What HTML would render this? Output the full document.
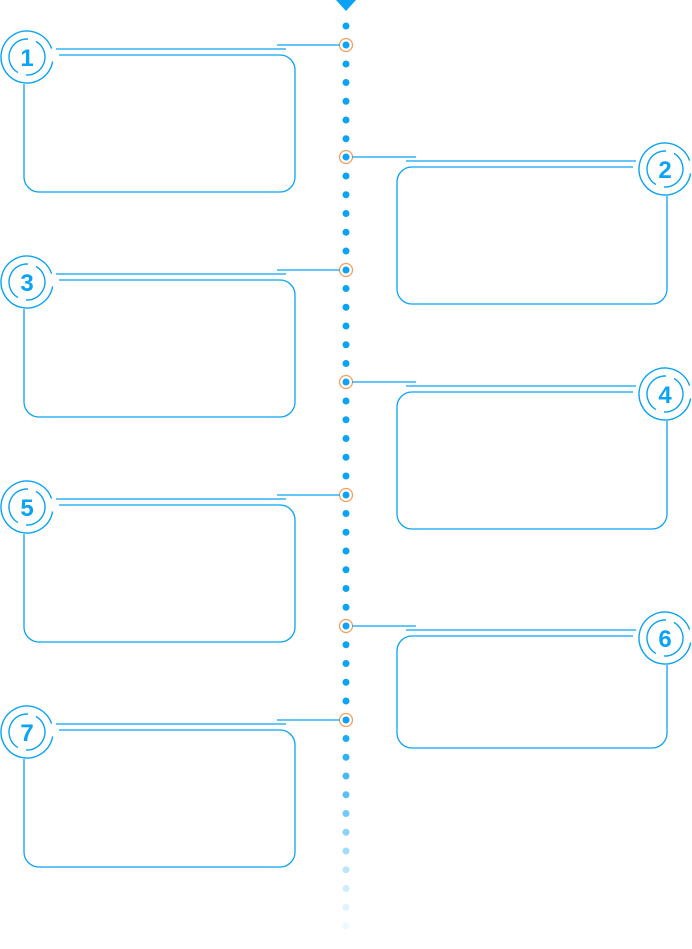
<!DOCTYPE html>
<html><head><meta charset="utf-8"><style>
html,body{margin:0;padding:0;background:#fff;width:692px;height:949px;overflow:hidden}
svg{display:block}
text{font-family:"Liberation Sans","DejaVu Sans",sans-serif;font-weight:bold;font-size:24px;fill:#0aa3f5}
</style></head><body>
<svg width="692" height="949" viewBox="0 0 692 949" xmlns="http://www.w3.org/2000/svg">
<defs>
<g id="badge">
<circle cx="0" cy="0" r="26" fill="none" stroke="#0aa3f5" stroke-width="1.4" stroke-dasharray="150 13.4" transform="rotate(10)"/>
<circle cx="0" cy="0" r="18" fill="none" stroke="#0aa3f5" stroke-width="1.4" stroke-dasharray="48 8.5" transform="rotate(-60)"/>
</g>
</defs>
<polygon points="336,0 356,0 346,11" fill="#0aa3f5"/>
<g fill="#0aa3f5">
<circle cx="346" cy="26" r="3.5"/><circle cx="346" cy="64" r="3.5"/><circle cx="346" cy="82.5" r="3.5"/><circle cx="346" cy="101.25" r="3.5"/><circle cx="346" cy="120" r="3.5"/><circle cx="346" cy="138.75" r="3.5"/>
<circle cx="346" cy="176" r="3.5"/><circle cx="346" cy="194.75" r="3.5"/><circle cx="346" cy="213.5" r="3.5"/><circle cx="346" cy="232.25" r="3.5"/><circle cx="346" cy="251" r="3.5"/>
<circle cx="346" cy="288.5" r="3.5"/><circle cx="346" cy="307.25" r="3.5"/><circle cx="346" cy="326" r="3.5"/><circle cx="346" cy="344.75" r="3.5"/><circle cx="346" cy="363.5" r="3.5"/>
<circle cx="346" cy="401" r="3.5"/><circle cx="346" cy="419.75" r="3.5"/><circle cx="346" cy="438.5" r="3.5"/><circle cx="346" cy="457.25" r="3.5"/><circle cx="346" cy="476" r="3.5"/>
<circle cx="346" cy="513.5" r="3.5"/><circle cx="346" cy="532.25" r="3.5"/><circle cx="346" cy="551" r="3.5"/><circle cx="346" cy="569.75" r="3.5"/><circle cx="346" cy="588.5" r="3.5"/><circle cx="346" cy="607.25" r="3.5"/>
<circle cx="346" cy="644.75" r="3.5"/><circle cx="346" cy="663.5" r="3.5"/><circle cx="346" cy="682.25" r="3.5"/><circle cx="346" cy="701" r="3.5"/>
<circle cx="346" cy="738.5" r="3.5" opacity="0.92"/><circle cx="346" cy="757.25" r="3.5" opacity="0.84"/><circle cx="346" cy="776" r="3.5" opacity="0.76"/><circle cx="346" cy="794.75" r="3.5" opacity="0.68"/><circle cx="346" cy="813.5" r="3.5" opacity="0.58"/><circle cx="346" cy="832.25" r="3.5" opacity="0.48"/><circle cx="346" cy="851" r="3.5" opacity="0.38"/><circle cx="346" cy="869.75" r="3.5" opacity="0.28"/><circle cx="346" cy="888.5" r="3.5" opacity="0.2"/><circle cx="346" cy="907.25" r="3.5" opacity="0.13"/><circle cx="346" cy="926" r="3.5" opacity="0.07"/>
</g>
<g fill="#0aa3f5" stroke="#f6a060" stroke-width="1.3">
<g><circle cx="346" cy="45" r="6.5" fill="none"/><circle cx="346" cy="45" r="3.5" stroke="none"/></g>
<g><circle cx="346" cy="157" r="6.5" fill="none"/><circle cx="346" cy="157" r="3.5" stroke="none"/></g>
<g><circle cx="346" cy="270" r="6.5" fill="none"/><circle cx="346" cy="270" r="3.5" stroke="none"/></g>
<g><circle cx="346" cy="382" r="6.5" fill="none"/><circle cx="346" cy="382" r="3.5" stroke="none"/></g>
<g><circle cx="346" cy="495" r="6.5" fill="none"/><circle cx="346" cy="495" r="3.5" stroke="none"/></g>
<g><circle cx="346" cy="626" r="6.5" fill="none"/><circle cx="346" cy="626" r="3.5" stroke="none"/></g>
<g><circle cx="346" cy="720" r="6.5" fill="none"/><circle cx="346" cy="720" r="3.5" stroke="none"/></g>
</g>
<g fill="none" stroke="#0aa3f5" stroke-width="1.3">
<path d="M277 45H340M56 49H286M59 55H280A15 15 0 0 1 295 70V177A15 15 0 0 1 280 192H39A15 15 0 0 1 24 177V84"/>
<path d="M277 270H340M56 274H286M59 280H280A15 15 0 0 1 295 295V402A15 15 0 0 1 280 417H39A15 15 0 0 1 24 402V309"/>
<path d="M277 495H340M56 499H286M59 505H280A15 15 0 0 1 295 520V627A15 15 0 0 1 280 642H39A15 15 0 0 1 24 627V534"/>
<path d="M277 720H340M56 724H286M59 730H280A15 15 0 0 1 295 745V852A15 15 0 0 1 280 867H39A15 15 0 0 1 24 852V759"/>
<path d="M352 157H416M406 161H636M633 167H412A15 15 0 0 0 397 182V289A15 15 0 0 0 412 304H652A15 15 0 0 0 667 289V196"/>
<path d="M352 382H416M406 386H636M633 392H412A15 15 0 0 0 397 407V514A15 15 0 0 0 412 529H652A15 15 0 0 0 667 514V421"/>
<path d="M352 626H416M406 630H636M633 636H412A15 15 0 0 0 397 651V733A15 15 0 0 0 412 748H652A15 15 0 0 0 667 733V665"/>
</g>
<use href="#badge" x="27" y="57"/>
<use href="#badge" x="27" y="282"/>
<use href="#badge" x="27" y="507"/>
<use href="#badge" x="27" y="732"/>
<use href="#badge" x="665" y="169"/>
<use href="#badge" x="665" y="394"/>
<use href="#badge" x="665" y="638"/>
<g text-anchor="middle">
<text x="27" y="66">1</text>
<text x="665" y="178">2</text>
<text x="27" y="291">3</text>
<text x="665" y="403">4</text>
<text x="27" y="516">5</text>
<text x="665" y="647">6</text>
<text x="27" y="741">7</text>
</g>
</svg>
</body></html>
